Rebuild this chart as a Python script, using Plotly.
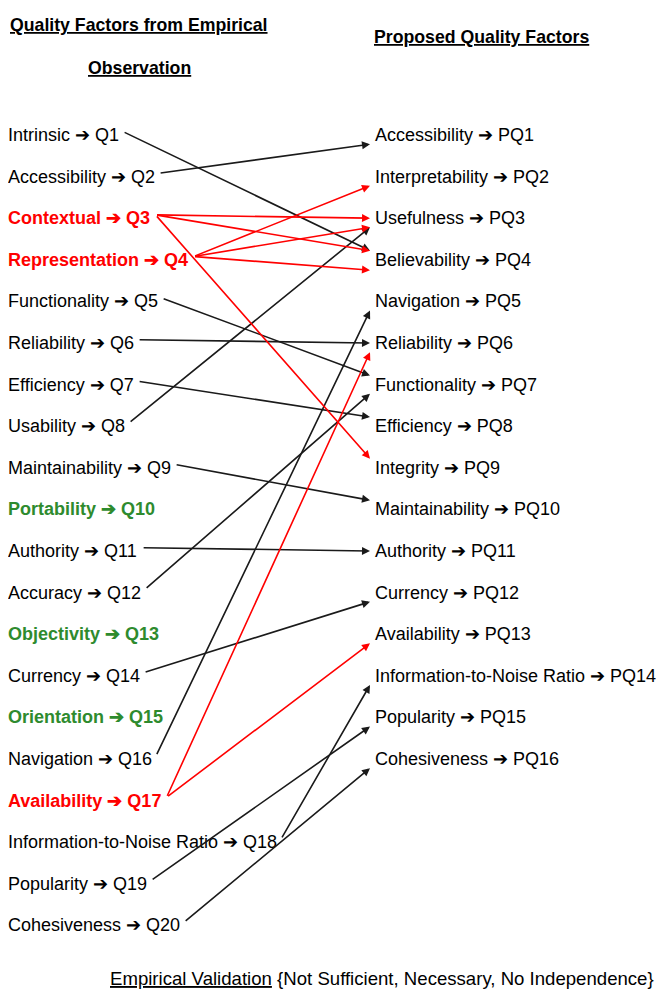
import plotly.graph_objects as go

# ---------------- data ----------------
left_labels = [
    "Intrinsic ➔ Q1", "Accessibility ➔ Q2", "Contextual ➔ Q3", "Representation ➔ Q4",
    "Functionality ➔ Q5", "Reliability ➔ Q6", "Efficiency ➔ Q7", "Usability ➔ Q8",
    "Maintainability ➔ Q9", "Portability ➔ Q10", "Authority ➔ Q11", "Accuracy ➔ Q12",
    "Objectivity ➔ Q13", "Currency ➔ Q14", "Orientation ➔ Q15", "Navigation ➔ Q16",
    "Availability ➔ Q17", "Information-to-Noise Ratio ➔ Q18", "Popularity ➔ Q19",
    "Cohesiveness ➔ Q20",
]
# n = plain, r = red bold, g = green bold
left_kind = ["n", "n", "r", "r", "n", "n", "n", "n", "n", "g",
             "n", "n", "g", "n", "g", "n", "r", "n", "n", "n"]

right_labels = [
    "Accessibility ➔ PQ1", "Interpretability ➔ PQ2", "Usefulness ➔ PQ3", "Believability ➔ PQ4",
    "Navigation ➔ PQ5", "Reliability ➔ PQ6", "Functionality ➔ PQ7", "Efficiency ➔ PQ8",
    "Integrity ➔ PQ9", "Maintainability ➔ PQ10", "Authority ➔ PQ11", "Currency ➔ PQ12",
    "Availability ➔ PQ13", "Information-to-Noise Ratio ➔ PQ14", "Popularity ➔ PQ15",
    "Cohesiveness ➔ PQ16",
]

# connections: source row (left), target row (right), colour kind
link_src = [0, 1, 4, 5, 6, 7, 8, 10, 11, 13, 15, 17, 18, 19, 2, 2, 2, 3, 3, 3, 16, 16]
link_tgt = [3, 0, 6, 5, 7, 2, 9, 10, 6, 11, 4, 13, 14, 15, 2, 3, 8, 1, 2, 3, 5, 12]
link_kind = ["k"] * 14 + ["r"] * 8

left_title = ["Quality Factors from Empirical", "Observation"]
right_title = "Proposed Quality Factors"
bottom_u = "Empirical Validation"
bottom_rest = " {Not Sufficient, Necessary, No Independence}"

# ---------------- style ----------------
FONT = "Liberation Sans, Arial, sans-serif"
FS = 18
COL = {"n": "#000000", "r": "#ff0000", "g": "#2e8b2e", "k": "#1a1a1a"}
W, H = 665, 1001
OFF = 8                      # browser body margin
ROW0, DROW = 135.0, 41.6     # pixel position of first row and row spacing
LEFT_X, RIGHT_X = 9, 373
LSHIFT = -3


def py(pix):
    """window pixel y -> row units"""
    return (pix - ROW0) / DROW


# Arial glyph widths (1/1000 em)
REG = dict(zip("abcdefghijklmnopqrstuvwxyz",
               [556, 556, 500, 556, 556, 278, 556, 556, 222, 222, 500, 222, 833,
                556, 556, 556, 556, 333, 500, 278, 556, 500, 722, 500, 500, 500]))
BOLD = dict(zip("abcdefghijklmnopqrstuvwxyz",
                [556, 611, 556, 611, 556, 333, 611, 611, 278, 278, 556, 278, 889,
                 611, 611, 611, 611, 389, 556, 333, 611, 556, 778, 556, 556, 500]))
UP = {"A": 667, "C": 722, "E": 667, "F": 611, "I": 278, "M": 833, "N": 722,
      "O": 778, "P": 667, "Q": 778, "R": 722, "U": 722}


def text_w(s, bold):
    tot = 0
    for ch in s:
        if ch in REG:
            tot += (BOLD if bold else REG)[ch]
        elif ch in UP:
            tot += UP[ch] + (40 if bold else 0)
        elif ch.isdigit():
            tot += 556
        elif ch == " ":
            tot += 278
        elif ch == "-":
            tot += 333
        elif ch == "➔":
            tot += 838
        else:
            tot += 500
    return tot / 1000 * FS


fig = go.Figure()
fig.add_trace(go.Scatter(x=[OFF, W], y=[0, 0], mode="markers",
                         marker=dict(opacity=0), hoverinfo="skip", showlegend=False))

# labels
for i, (lab, kd) in enumerate(zip(left_labels, left_kind)):
    txt = f"<b>{lab}</b>" if kd != "n" else lab
    fig.add_annotation(x=LEFT_X, y=i, text=txt, showarrow=False, xanchor="left",
                       xshift=LSHIFT, yanchor="middle",
                       font=dict(family=FONT, size=FS, color=COL[kd]))
for i, lab in enumerate(right_labels):
    fig.add_annotation(x=RIGHT_X, y=i, text=lab, showarrow=False, xanchor="left",
                       yanchor="middle", font=dict(family=FONT, size=FS, color="#000000"))

# arrows
for s, t, kd in zip(link_src, link_tgt, link_kind):
    bold = left_kind[s] != "n"
    x0 = LEFT_X + LSHIFT + 2 + text_w(left_labels[s], bold) + 4
    sign = (s > t) - (s < t)
    y1 = t + 0.22 * sign
    if s == t and s == 3:
        y1 = t + 0.25
    fig.add_annotation(x=RIGHT_X - 3, y=y1, ax=x0, ay=s - 0.08, axref="x", ayref="y",
                       xref="x", yref="y", text="", showarrow=True,
                       arrowhead=2, arrowsize=1.0, arrowwidth=1.6,
                       arrowcolor="#ff0000" if kd == "r" else COL["k"])

# headings
for txt, yp in zip(left_title, [25, 68]):
    fig.add_annotation(x=139, y=py(yp), text=f"<b><u>{txt}</u></b>",
                       showarrow=False, xanchor="center", yanchor="middle",
                       font=dict(family=FONT, size=17.7, color="#000000"))
fig.add_annotation(x=481, y=py(37), text=f"<b><u>{right_title}</u></b>",
                   showarrow=False, xanchor="center", yanchor="middle",
                   font=dict(family=FONT, size=17.7, color="#000000"))
fig.add_annotation(x=382, y=py(978), text=f"<u>{bottom_u}</u>{bottom_rest}",
                   showarrow=False, xanchor="center", yanchor="middle",
                   font=dict(family=FONT, size=18.6, color="#000000"))

fig.update_layout(
    width=W - OFF, height=H - OFF, margin=dict(l=0, r=0, t=0, b=0),
    paper_bgcolor="white", plot_bgcolor="white", showlegend=False,
    xaxis=dict(range=[OFF, W], visible=False, fixedrange=True),
    yaxis=dict(range=[py(H), py(OFF)], visible=False, fixedrange=True),
)
fig.write_html("out.html")
